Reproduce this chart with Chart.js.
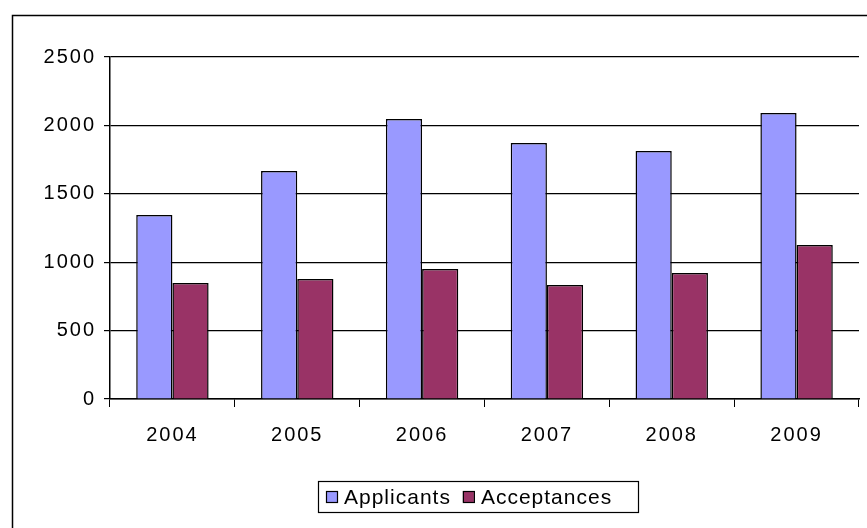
<!DOCTYPE html><html><head><script src="https://cdn.jsdelivr.net/npm/chart.js@4"></script>
<style>body{margin:0;background:#fff}#w{width:867px;height:528px}</style></head><body><div id="w"><canvas id="c"></canvas></div>
<script>
const categories=['2004','2005','2006','2007','2008','2009'];
const applicants=[1345,1667,2047,1871,1813,2091];
const acceptances=[848,877,950,833,921,1126];
const yTicks=[0,500,1000,1500,2000,2500];
const F='"Liberation Sans", Arial, sans-serif';
const deco={id:'deco',beforeDraw(ch){ch.ctx.letterSpacing='2px';},afterDraw(ch){const c=ch.ctx;c.save();c.strokeStyle='#000';c.lineWidth=1.5;
c.strokeRect(12.5,15.5,870,530);
c.font='21px '+F;c.letterSpacing='1px';c.textBaseline='middle';
const items=ch.data.datasets.map(d=>({t:d.label,col:d.backgroundColor}));
let x=322,y=497;c.lineWidth=1.2;c.strokeRect(318.5,481.5,320,31);
items.forEach(it=>{c.fillStyle=it.col;c.fillRect(x+4,y-6,11,11);c.strokeRect(x+4.5,y-5.5,11,11);c.fillStyle='#000';c.fillText(it.t,x+22,y+1);x+=c.measureText(it.t).width+30;});
c.restore();}};
new Chart(document.getElementById('c'),{type:'bar',
data:{labels:categories,datasets:[
{label:'Applicants',data:applicants,backgroundColor:'#9999ff',borderColor:'#000',borderWidth:1.5},
{label:'Acceptances',data:acceptances,backgroundColor:'#993366',borderColor:'#000',borderWidth:1.5}]},
options:{responsive:true,maintainAspectRatio:false,animation:false,
layout:{padding:{top:57,right:8,left:0,bottom:0}},
plugins:{legend:{display:false},tooltip:{enabled:false}},
datasets:{bar:{categoryPercentage:0.58,barPercentage:1}},
scales:{
x:{afterFit:s=>{s.height=129},grid:{offset:true,display:true,drawOnChartArea:false,color:'#000',tickLength:8},border:{color:'#000',width:1.5},
ticks:{color:'#000',font:{family:F,size:20},padding:16}},
y:{min:0,max:2500,afterFit:s=>{s.width=110},afterBuildTicks:s=>{s.ticks=yTicks.map(v=>({value:v}))},
grid:{color:'#000',lineWidth:1.2,tickLength:6},border:{color:'#000',width:1.5},
ticks:{color:'#000',font:{family:F,size:20},padding:8,callback:v=>String(v)}}}},
plugins:[deco]});
</script></body></html>
